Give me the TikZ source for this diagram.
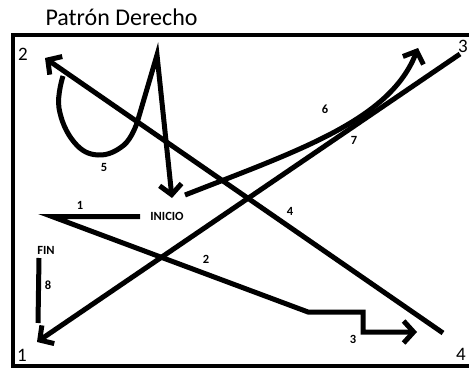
\documentclass[tikz,border=0pt]{standalone}
\usepackage{fontspec}
\setmainfont{Carlito}
\usetikzlibrary{arrows.meta}
\begin{document}
\begin{tikzpicture}[x=1pt,y=-1pt,
  stroke/.style={line width=5pt},
  barb/.style={-{Straight Barb[length=10pt,width=22pt,line width=5pt]}},
  small/.style={font=\fontsize{12.5}{13}\selectfont\bfseries,inner sep=0pt},
  corner/.style={font=\fontsize{19}{20}\selectfont,inner sep=0pt},
  ]
\useasboundingbox (0,0) rectangle (469,369);
% frame
\draw[line width=4pt] (470,35.5) -- (12.5,35.5) -- (12.5,366) -- (470,366);
% title
\node[font=\fontsize{24}{26}\selectfont,inner sep=0pt] (title) at (121.5,17) {Patrón Derecho};
% corner labels
\node[corner] (c2) at (23,54) {2};
\node[corner] (c3) at (463,46) {3};
\node[corner] (c1) at (22,355) {1};
\node[corner] (c4) at (461,354) {4};
% key points
\coordinate (start) at (140,216.5);
\coordinate (v1) at (52,216.5);
\coordinate (b1) at (308,312);
\coordinate (b2) at (363,312);
\coordinate (b3) at (363,332);
\coordinate (t3) at (417,332);
\coordinate (s4) at (443,333);
\coordinate (t4) at (45,58);
\coordinate (l1) at (63,76);
\coordinate (l2) at (59,108);
\coordinate (l3) at (74,142);
\coordinate (l4) at (98,155);
\coordinate (l5) at (124,145);
\coordinate (l6) at (137,123);
\coordinate (peak) at (157,55);
\coordinate (t5) at (172,198);
\coordinate (s6) at (185,195);
\coordinate (t6) at (418,48);
\coordinate (s7) at (460,54);
\coordinate (t7) at (37,342);
\coordinate (s8) at (39,258);
\coordinate (e8) at (38,323);
% lines 1, 2, 3
\draw[stroke,barb] (start) -- (v1) -- (b1) -- (b2) -- (b3) -- (t3);
% line 4
\draw[stroke,barb] (s4) -- (t4);
% loop 5
\draw[stroke,barb] plot[smooth,tension=0.7] coordinates {(l1) (l2) (l3) (l4) (l5) (l6)} -- (peak) -- (t5);
% curve 6
\draw[stroke,barb] (s6) .. controls (300,150) and (390,120) .. (t6);
% line 7
\draw[stroke,barb] (s7) -- (t7);
% line 8
\draw[stroke] (s8) -- (e8);
% labels
\node[small] (n1) at (80,205) {1};
\node[small] (n2) at (206,259) {2};
\node[small] (n3) at (353,339) {3};
\node[small] (n4) at (290,211) {4};
\node[small] (n5) at (104,167) {5};
\node[small] (n6) at (325,109) {6};
\node[small] (n7) at (354,140) {7};
\node[small] (n8) at (48,285) {8};
\node[small] (fin) at (46,250) {FIN};
\node[small] (inicio) at (167,216) {INICIO};
\end{tikzpicture}
\end{document}
